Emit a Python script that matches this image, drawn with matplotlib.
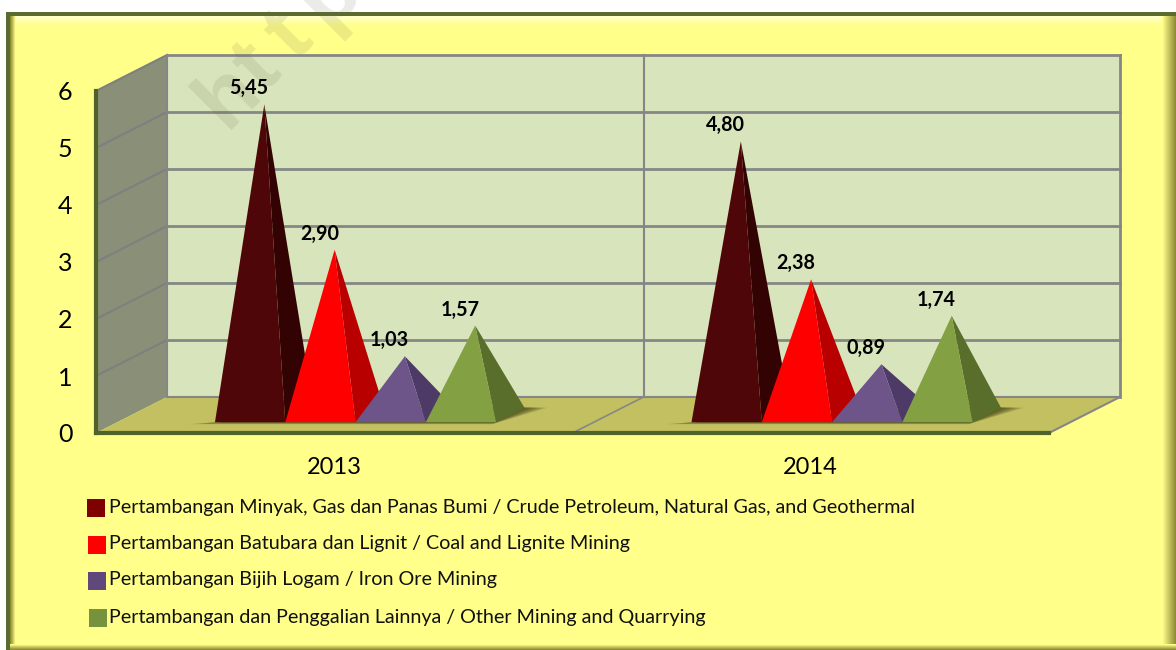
import numpy as np
import matplotlib
matplotlib.use('Agg')
import matplotlib.pyplot as plt
from matplotlib.patches import Rectangle

plt.rcParams['font.family'] = ['Lato', 'DejaVu Sans']

years = ['2013', '2014']
series_names = ['Pertambangan Minyak, Gas dan Panas Bumi / Crude Petroleum, Natural Gas, and Geothermal',
                'Pertambangan Batubara dan Lignit / Coal and Lignite Mining',
                'Pertambangan Bijih Logam / Iron Ore Mining',
                'Pertambangan dan Penggalian Lainnya / Other Mining and Quarrying']
minyak = [5.45, 4.80]
batubara = [2.90, 2.38]
bijih = [1.03, 0.89]
lainnya = [1.57, 1.74]
all_series = [minyak, batubara, bijih, lainnya]
yticks = [0, 1, 2, 3, 4, 5, 6]

front_cols = ['#4f0608', '#ff0000', '#6d5589', '#83a042']
side_cols = ['#330303', '#b80000', '#4d3a66', '#5a6e2c']
legend_cols = ['#7f0000', '#ff0000', '#5f497a', '#76923c']

fig = plt.figure(figsize=(11.76, 6.5), dpi=100, facecolor='white')

# background frame, in pixels
bg = fig.add_axes([0, 0, 1, 1], zorder=0)
bg.set_xlim(0, 1176)
bg.set_ylim(650, 0)
bg.axis('off')
yellow = np.array(matplotlib.colors.to_rgb('#ffff8a'))
olive = np.array(matplotlib.colors.to_rgb('#8f8c35'))
pale = np.array(matplotlib.colors.to_rgb('#ffffc8'))
bg.add_patch(Rectangle((6, 12), 1170, 638, color='#5a6b30', lw=0))
bg.add_patch(Rectangle((10, 16), 1166, 634, color=yellow, lw=0))
for i in range(10):
    c = pale + (yellow - pale) * i / 9
    bg.add_patch(Rectangle((10, 16 + i), 1166, 1, color=c, lw=0))
for i in range(6):
    c = olive + (yellow - olive) * i / 5
    bg.add_patch(Rectangle((10 + i, 16), 1, 634, color=c, lw=0))
for i in range(14):
    c = yellow + (olive - yellow) * i / 13
    bg.add_patch(Rectangle((1162 + i, 16), 1, 634, color=c, lw=0))
for i in range(6):
    c = yellow + (olive - yellow) * i / 5
    bg.add_patch(Rectangle((10, 644 + i), 1166, 1, color=c, lw=0))

# chart axes: x in categories, y in value units
ax = fig.add_axes([96 / 1176, (650 - 433) / 650, 953 / 1176, 342 / 650], zorder=1)
ax.set_xlim(0, 2)
ax.set_ylim(0, 6)
ax.patch.set_alpha(0)
for s in ax.spines.values():
    s.set_visible(False)

DX = 71 / 476.5
DY = 36 / 57
gap = 0.205
width = (1 - 2 * gap) / 4
z_front, z_back = 0.3, 0.7


def pt(x, z, v):
    return x + z * DX, v + z * DY


def poly(points, color, zorder):
    xs, ys = zip(*points)
    ax.fill(xs, ys, color=color, lw=0, zorder=zorder, clip_on=False)


# side wall, back wall, floor
poly([pt(0, 0, 0), pt(0, 1, 0), pt(0, 1, 6), pt(0, 0, 6)], '#8a8f78', 1)
poly([pt(0, 1, 0), pt(2, 1, 0), pt(2, 1, 6), pt(0, 1, 6)], '#d8e4bc', 1)
poly([pt(0, 0, 0), pt(2, 0, 0), pt(2, 1, 0), pt(0, 1, 0)], '#c2c060', 1)

grid_col = '#868686'
for v in yticks[1:]:
    ax.plot(*zip(pt(0, 1, v), pt(2, 1, v)), color=grid_col, lw=2, zorder=1.2, clip_on=False)
    ax.plot(*zip(pt(0, 0, v), pt(0, 1, v)), color='#7f7f7f', lw=1.5, zorder=1.2, clip_on=False)
ax.plot(*zip(pt(0, 1, 0), pt(2, 1, 0)), color=grid_col, lw=1.5, zorder=1.2, clip_on=False)
ax.plot(*zip(pt(0, 1, 0), pt(0, 1, 6)), color=grid_col, lw=1.5, zorder=1.2, clip_on=False)
ax.plot(*zip(pt(1, 1, 0), pt(1, 1, 6)), color=grid_col, lw=1.5, zorder=1.2, clip_on=False)
ax.plot(*zip(pt(2, 1, 0), pt(2, 1, 6)), color=grid_col, lw=2, zorder=1.2, clip_on=False)
ax.plot(*zip(pt(1, 0, 0), pt(1, 1, 0)), color=grid_col, lw=1.2, zorder=1.2, clip_on=False)
ax.plot(*zip(pt(2, 0, 0), pt(2, 1, 0)), color=grid_col, lw=1.5, zorder=1.2, clip_on=False)
ax.plot(*zip(pt(0, 0, 0), pt(0, 0, 6)), color='#4f6228', lw=3, zorder=1.3, clip_on=False)
ax.plot(*zip(pt(0, 0, 0), pt(2, 0, 0)), color='#4f6228', lw=3, zorder=1.3, clip_on=False)

# watermark, only the start shows; letters placed one by one for the wide spacing
for ch, wx, wy in zip('http', [226, 263, 295, 327], [130, 93, 61, 29]):
    ax.text(wx, wy, ch, transform=bg.transData, rotation=45, rotation_mode='anchor',
            family='Liberation Sans', weight='bold', fontsize=62, color='#66664a', alpha=0.13,
            ha='left', va='baseline', zorder=1.5)

# soft shadows on the floor
for i in range(len(years)):
    x0 = i + gap
    x1 = x0 + 4 * width
    for k in range(8):
        e = (8 - k) * 0.006
        poly([pt(x0 - e, z_front - e * 1.2, 0), pt(x1, z_front - e * 1.2, 0),
              pt(x1 + e, z_back, 0), pt(x1 - 0.1, z_back + e, 0)], (0.2, 0.2, 0.05, 0.13), 2)

# pyramids
for i in range(len(years)):
    for j, values in enumerate(all_series):
        v = values[i]
        x0 = i + gap + j * width
        x1 = x0 + width
        top = pt((x0 + x1) / 2, 0.5, v)
        zo = 3 + j
        poly([pt(x1, z_front, 0), pt(x1, z_back, 0), top], side_cols[j], zo)
        poly([pt(x0, z_front, 0), pt(x1, z_front, 0), top], front_cols[j], zo)
        ax.annotate(f'{v:.2f}'.replace('.', ','), xy=top, xytext=(-11, 11.5), textcoords='offset points',
                    ha='center', va='center', fontsize=14.2, weight='bold', color='black',
                    zorder=10, annotation_clip=False)

ax.set_yticks(yticks)
ax.set_yticklabels([str(t) for t in yticks], fontsize=18)
ax.set_xticks([i + 0.5 for i in range(len(years))])
ax.set_xticklabels(years, fontsize=17)
ax.tick_params(axis='y', length=0, pad=17, labelcolor='black')
ax.tick_params(axis='x', length=0, pad=17.5, labelcolor='black')

# legend, laid out by hand as in the source
leg_x = [87, 88, 88, 89]
leg_y = [508, 545, 581, 618]
for name, col, lx, ly in zip(series_names, legend_cols, leg_x, leg_y):
    bg.add_patch(Rectangle((lx, ly - 9), 18, 18, color=col, lw=0))
    bg.text(109, ly - 1, name, fontsize=14.25, va='center', ha='left', color='#111111')

fig.savefig('out.png', dpi=100)
